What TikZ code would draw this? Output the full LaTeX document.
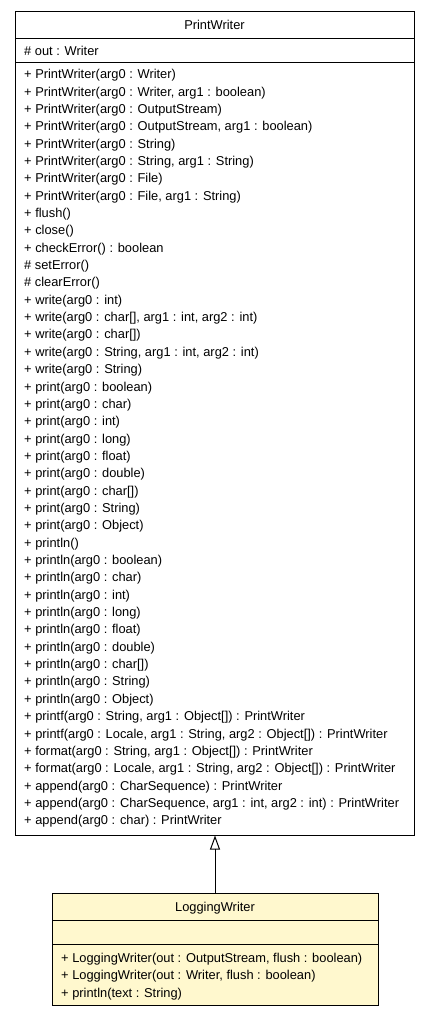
\documentclass[tikz,border=0pt]{standalone}
\usepackage{fontspec}
\setmainfont{Liberation Sans}
\usetikzlibrary{arrows.meta}
\definecolor{notefill}{RGB}{255,248,206}
\tikzset{
  classbox/.style={draw=black, line width=1pt, rectangle, inner sep=0pt},
  member/.style={anchor=base west, inner sep=0pt, font=\fontsize{12.85}{15}\selectfont},
  title/.style={anchor=base, inner sep=0pt, font=\fontsize{12.85}{15}\selectfont},
  divider/.style={draw=black, line width=1pt},
  extends/.style={draw=black, line width=1pt, -{Triangle[open, length=14pt, width=10pt]}}
}
\begin{document}
\begin{tikzpicture}[x=1pt, y=-1pt]
\useasboundingbox (0,0) rectangle (429,1016);

% PrintWriter class
\node[classbox, fill=white, minimum width=399pt, minimum height=823pt] (pw) at (214.5,423.5) {};
\node[title] (pwname) at (214.5,30) {PrintWriter};
\draw[divider] (15,39) coordinate (pwd1a) -- (414,39) coordinate (pwd1b);
\node[member] (pwattr) at (24,55.2) {\# out : Writer};
\draw[divider] (15,63) coordinate (pwd2a) -- (414,63) coordinate (pwd2b);

\foreach \txt [count=\i from 0] in {
  {+ PrintWriter(arg0 : Writer)},
  {+ PrintWriter(arg0 : Writer, arg1 : boolean)},
  {+ PrintWriter(arg0 : OutputStream)},
  {+ PrintWriter(arg0 : OutputStream, arg1 : boolean)},
  {+ PrintWriter(arg0 : String)},
  {+ PrintWriter(arg0 : String, arg1 : String)},
  {+ PrintWriter(arg0 : File)},
  {+ PrintWriter(arg0 : File, arg1 : String)},
  {+ flush()},
  {+ close()},
  {+ checkError() : boolean},
  {\# setError()},
  {\# clearError()},
  {+ write(arg0 : int)},
  {+ write(arg0 : char[], arg1 : int, arg2 : int)},
  {+ write(arg0 : char[])},
  {+ write(arg0 : String, arg1 : int, arg2 : int)},
  {+ write(arg0 : String)},
  {+ print(arg0 : boolean)},
  {+ print(arg0 : char)},
  {+ print(arg0 : int)},
  {+ print(arg0 : long)},
  {+ print(arg0 : float)},
  {+ print(arg0 : double)},
  {+ print(arg0 : char[])},
  {+ print(arg0 : String)},
  {+ print(arg0 : Object)},
  {+ println()},
  {+ println(arg0 : boolean)},
  {+ println(arg0 : char)},
  {+ println(arg0 : int)},
  {+ println(arg0 : long)},
  {+ println(arg0 : float)},
  {+ println(arg0 : double)},
  {+ println(arg0 : char[])},
  {+ println(arg0 : String)},
  {+ println(arg0 : Object)},
  {+ printf(arg0 : String, arg1 : Object[]) : PrintWriter},
  {+ printf(arg0 : Locale, arg1 : String, arg2 : Object[]) : PrintWriter},
  {+ format(arg0 : String, arg1 : Object[]) : PrintWriter},
  {+ format(arg0 : Locale, arg1 : String, arg2 : Object[]) : PrintWriter},
  {+ append(arg0 : CharSequence) : PrintWriter},
  {+ append(arg0 : CharSequence, arg1 : int, arg2 : int) : PrintWriter},
  {+ append(arg0 : char) : PrintWriter}}
  \node[member] (pwm\i) at (24,{78.7+17.35*\i}) {\txt};

% LoggingWriter class
\node[classbox, fill=notefill, minimum width=326pt, minimum height=112pt] (lw) at (215,949) {};
\node[title] (lwname) at (215,911) {LoggingWriter};
\draw[divider] (52,920) coordinate (lwd1a) -- (378,920) coordinate (lwd1b);
\draw[divider] (52,944) coordinate (lwd2a) -- (378,944) coordinate (lwd2b);
\node[member] (lwm0) at (61,962.2) {+ LoggingWriter(out : OutputStream, flush : boolean)};
\node[member] (lwm1) at (61,979.6) {+ LoggingWriter(out : Writer, flush : boolean)};
\node[member] (lwm2) at (61,997) {+ println(text : String)};

% generalization
\draw[extends] (lw.north) -- (lw.north |- pw.south);
\end{tikzpicture}
\end{document}
